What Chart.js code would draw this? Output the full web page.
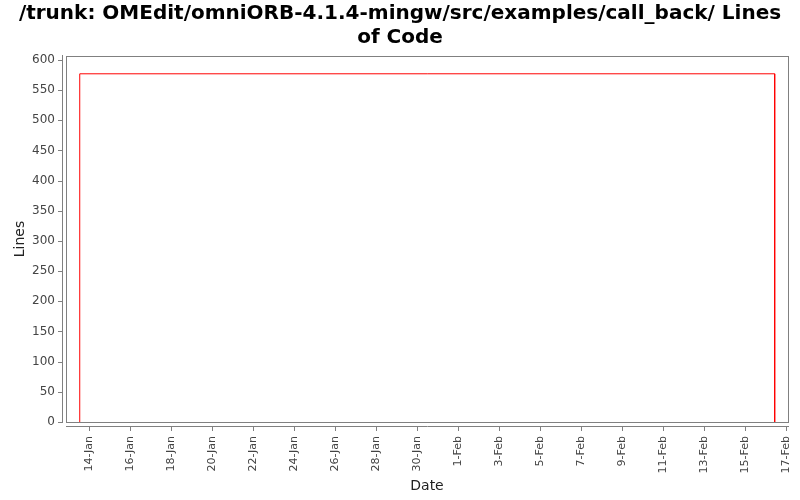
<!DOCTYPE html>
<html>
<head>
<meta charset="utf-8">
<script src="https://cdn.jsdelivr.net/npm/chart.js@4/dist/chart.umd.min.js"></script>
<style>
  html, body { margin: 0; padding: 0; background: #fff; }
  #wrap { width: 800px; height: 500px; }
</style>
</head>
<body>
<div id="wrap"><canvas id="locChart" width="800" height="500"></canvas></div>
<script>
// day-of-year numbers (1 = 1-Jan), fractional for time of day
const pointDays = [13.55, 13.55, 47.45, 47.45];
const lineValues = [0, 577, 577, 0];
const tickDays = [14, 16, 18, 20, 22, 24, 26, 28, 30, 32, 34, 36, 38, 40, 42, 44, 46, 48];
const tickLabels = ['14-Jan', '16-Jan', '18-Jan', '20-Jan', '22-Jan', '24-Jan', '26-Jan', '28-Jan', '30-Jan',
    '1-Feb', '3-Feb', '5-Feb', '7-Feb', '9-Feb', '11-Feb', '13-Feb', '15-Feb', '17-Feb'];
const yTicks = [0, 50, 100, 150, 200, 250, 300, 350, 400, 450, 500, 550, 600];

const ctx = document.getElementById('locChart').getContext('2d');

// frame around the plot, detached axis lines and their tick marks
const framePlugin = {
    id: 'frame',
    beforeDatasetsDraw(chart) {
        const a = chart.chartArea;
        const c = chart.ctx;
        const L = Math.round(a.left), R = Math.round(a.right);
        const T = Math.round(a.top), B = Math.round(a.bottom);
        c.save();
        c.strokeStyle = '#808080';
        c.lineWidth = 1;
        c.strokeRect(L + 0.5, T + 0.5, R - L, B - T);
        c.beginPath();
        c.moveTo(L - 3.5, T - 1);
        c.lineTo(L - 3.5, B + 1);
        c.moveTo(L, B + 4.5);
        c.lineTo(R + 1, B + 4.5);
        chart.scales.y.ticks.forEach(t => {
            const py = Math.round(chart.scales.y.getPixelForValue(t.value)) + 0.5;
            c.moveTo(L - 8, py);
            c.lineTo(L - 3, py);
        });
        chart.scales.x.ticks.forEach(t => {
            const px = Math.round(chart.scales.x.getPixelForValue(t.value)) + 0.5;
            c.moveTo(px, B + 5);
            c.lineTo(px, B + 9);
        });
        c.stroke();
        c.restore();
    }
};

new Chart(ctx, {
    type: 'line',
    data: {
        datasets: [{
            label: 'Lines',
            data: pointDays.map((d, i) => ({ x: d, y: lineValues[i] })),
            borderColor: '#ff0000',
            borderWidth: 1,
            pointRadius: 0,
            fill: false,
            tension: 0
        }]
    },
    options: {
        responsive: false,
        animation: false,
        layout: { padding: { left: 12, right: 12, top: 0, bottom: 0 } },
        plugins: {
            legend: { display: false },
            tooltip: { enabled: false },
            title: {
                display: true,
                text: ['/trunk: OMEdit/omniORB-4.1.4-mingw/src/examples/call_back/ Lines', 'of Code'],
                font: { family: 'DejaVu Sans', size: 20, weight: 'bold' },
                color: '#000',
                padding: { top: 2, bottom: 6 },
                lineHeight: 1.1
            }
        },
        scales: {
            x: {
                type: 'linear',
                min: 12.88,
                max: 48.1,
                afterBuildTicks: axis => {
                    axis.ticks = tickDays.map(v => ({ value: v }));
                },
                afterFit: scale => {
                    scale.height = 78;
                    scale.paddingLeft = 0;
                    scale.paddingRight = 0;
                },
                ticks: {
                    autoSkip: false,
                    maxRotation: 90,
                    minRotation: 90,
                    font: { family: 'DejaVu Sans', size: 11 },
                    color: '#444',
                    padding: 6,
                    callback: function (value) {
                        const i = tickDays.indexOf(value);
                        return i >= 0 ? tickLabels[i] : '';
                    }
                },
                grid: { display: false },
                border: { display: false },
                title: {
                    display: true,
                    text: 'Date',
                    font: { family: 'DejaVu Sans', size: 14 },
                    color: '#222',
                    padding: { top: 0, bottom: 5 }
                }
            },
            y: {
                min: 0,
                max: 606.5,
                afterBuildTicks: axis => {
                    axis.ticks = yTicks.map(v => ({ value: v }));
                },
                afterFit: scale => {
                    scale.width = 54;
                    scale.paddingTop = 0;
                    scale.paddingBottom = 0;
                },
                ticks: {
                    font: { family: 'DejaVu Sans', size: 12 },
                    color: '#444',
                    padding: 3
                },
                grid: { display: false },
                border: { display: false },
                title: {
                    display: true,
                    text: 'Lines',
                    font: { family: 'DejaVu Sans', size: 14 },
                    color: '#222',
                    padding: { top: 0, bottom: 0 }
                }
            }
        }
    },
    plugins: [framePlugin]
});
</script>
</body>
</html>
